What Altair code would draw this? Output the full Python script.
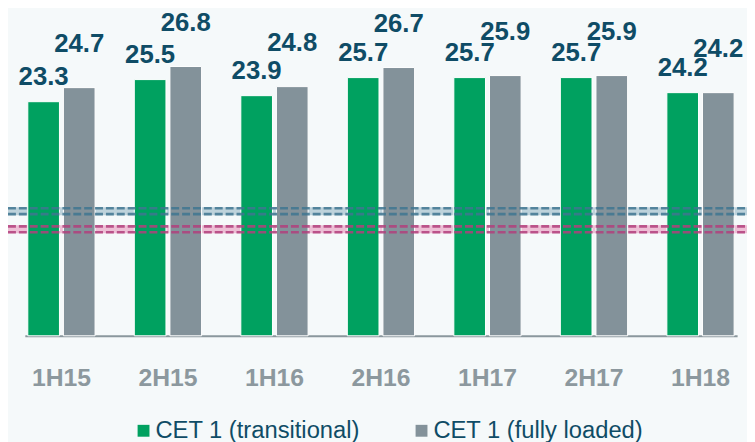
import altair as alt
import pandas as pd

periods = ["1H15", "2H15", "1H16", "2H16", "1H17", "2H17", "1H18"]
cet1_transitional = [23.3, 25.5, 23.9, 25.7, 25.7, 25.7, 24.2]
cet1_fully_loaded = [24.7, 26.8, 24.8, 26.7, 25.9, 25.9, 24.2]
series_names = ["CET 1 (transitional)", "CET 1 (fully loaded)"]
thresholds = [12.4, 10.6]

GREEN = "#00a160"
GRAY = "#83929a"
LABEL = "#0f4c66"
AXIS_GRAY = "#8c989e"
BG = "#f5f9fa"
FONT = "Liberation Sans"
band_colors = ["#a9c4d0", "#eaa9c8"]
dash_colors = ["#3f7690", "#b2407c"]

rows = []
for p, t, f in zip(periods, cet1_transitional, cet1_fully_loaded):
    rows.append({"period": p, "series": series_names[0], "value": t})
    rows.append({"period": p, "series": series_names[1], "value": f})
df = pd.DataFrame(rows)

x_enc = alt.X(
    "period:N",
    sort=periods,
    scale=alt.Scale(paddingInner=0.3685, paddingOuter=0.028),
    axis=alt.Axis(
        title=None, labelAngle=0, ticks=False, domainColor="#8a979d", domainWidth=2,
        labelFontSize=25, labelFontWeight="bold", labelColor=AXIS_GRAY, labelFont=FONT,
        labelPadding=30, grid=False,
    ),
)
xo_enc = alt.XOffset("series:N", sort=series_names, scale=alt.Scale(paddingInner=0.111, paddingOuter=0))
y_enc = alt.Y("value:Q", scale=alt.Scale(domain=[0, 32], nice=False, zero=True), axis=None)

base = alt.Chart(df)

layers = []
# background light bands (behind bars)
for lvl, bc in zip(thresholds, band_colors):
    layers.append(
        alt.Chart(pd.DataFrame({"value": [lvl]}))
        .mark_rule(color=bc, strokeWidth=8, opacity=0.75)
        .encode(x=alt.value(-17), x2=alt.value(730), y=alt.Y("value:Q", axis=None))
    )

bars = base.mark_bar(stroke="white", strokeWidth=1).encode(
    x=x_enc,
    xOffset=xo_enc,
    y=y_enc,
    color=alt.Color(
        "series:N",
        sort=series_names,
        scale=alt.Scale(domain=series_names, range=[GREEN, GRAY]),
        legend=alt.Legend(
            title=None, orient="none", legendX=108, legendY=409, direction="horizontal",
            symbolType="square", symbolSize=144, symbolStrokeWidth=0,
            labelFontSize=24, labelColor=LABEL, labelFont=FONT, labelOffset=0,
            columnPadding=50, labelLimit=0,
        ),
    ),
)
layers.append(bars)

# dashed lines over bars
for lvl, dc in zip(thresholds, dash_colors):
    for off in (-3, 3):
        layers.append(
            alt.Chart(pd.DataFrame({"value": [lvl]}))
            .mark_rule(color=dc, strokeWidth=2.7, strokeDash=[8, 3], opacity=0.85, yOffset=off)
            .encode(x=alt.value(-17), x2=alt.value(730), y=alt.Y("value:Q", axis=None))
        )

text_t = base.transform_filter(alt.datum.series == series_names[0]).mark_text(
    fontSize=26, fontWeight="bold", font=FONT, color=LABEL, baseline="alphabetic", dy=-17
).encode(x=x_enc, xOffset=xo_enc, y=y_enc, text=alt.Text("value:Q", format=".1f"))
text_f = base.transform_filter(alt.datum.series == series_names[1]).mark_text(
    fontSize=26, fontWeight="bold", font=FONT, color=LABEL, baseline="alphabetic", dy=-36
).encode(x=x_enc, xOffset=xo_enc, y=y_enc, text=alt.Text("value:Q", format=".1f"))
layers += [text_t, text_f]

chart = (
    alt.layer(*layers)
    .properties(
        width=720, height=325,
        autosize=alt.AutoSizeParams(type="none"),
        padding={"left": 17, "top": 4, "right": 10, "bottom": 105},
        background=BG,
    )
    .configure_view(stroke=None)
)

chart.save("out.html", embed_options={"renderer": "svg", "actions": False})
